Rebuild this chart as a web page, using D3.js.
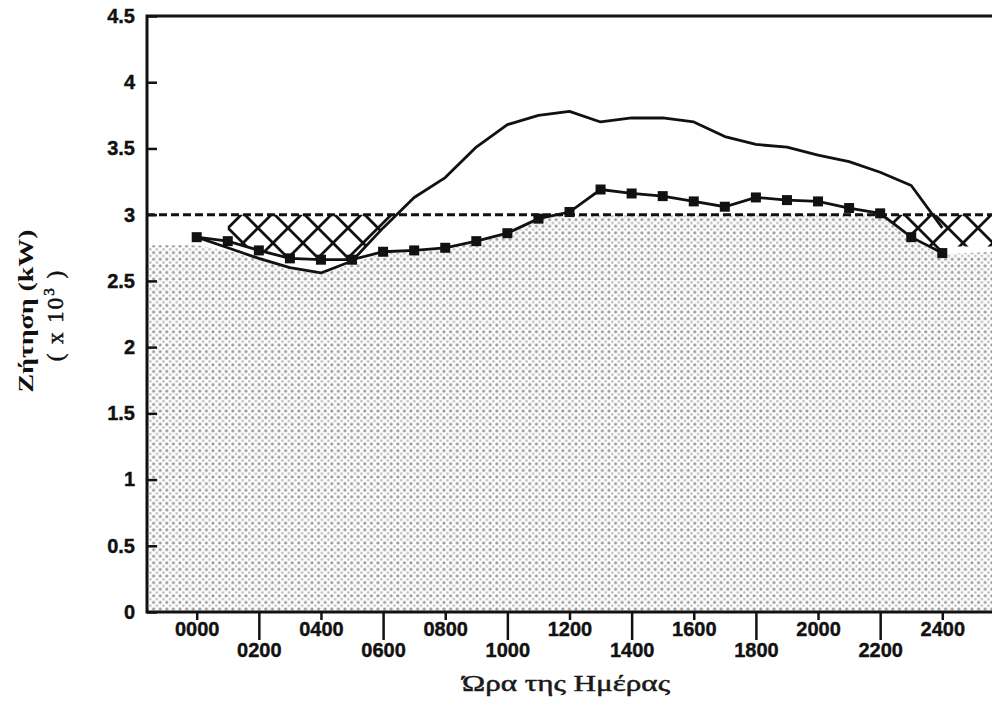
<!DOCTYPE html>
<html>
<head>
<meta charset="utf-8">
<script src="https://cdn.jsdelivr.net/npm/d3@7"></script>
<style>
  body { margin: 0; background: #fff; }
  svg { display: block; }
  .tick text { font-family: "Liberation Sans", Arial, sans-serif; font-weight: bold; font-size: 20px; fill: #111; stroke: #111; stroke-width: 0.4px; }
</style>
</head>
<body>
<span></span>
<script>
// hourly demand, kW x 10^3
var hours = d3.range(0, 25);
var storageLoad = [2.83, 2.80, 2.73, 2.67, 2.66, 2.66, 2.72, 2.73, 2.75, 2.80, 2.86, 2.97, 3.02,
                   3.19, 3.16, 3.14, 3.10, 3.06, 3.13, 3.11, 3.10, 3.05, 3.01, 2.83, 2.71];
var baseLoad = [2.83, 2.75, 2.67, 2.60, 2.56, 2.65, 2.90, 3.13, 3.28, 3.51, 3.68, 3.75, 3.78,
                3.70, 3.73, 3.73, 3.70, 3.59, 3.53, 3.51, 3.45, 3.40, 3.32, 3.22, 2.90];
var limit = 3.0;

// shaded (grid supply) area
var gridHours = [-1.6, 0, 1, 2, 3, 4, 5, 6, 7, 8, 9, 10, 11, 11.5, 22, 23, 24, 25.6];
var gridTop = [2.77, 2.77, 2.73, 2.66, 2.59, 2.55, 2.63, 2.71, 2.72, 2.74, 2.79, 2.85, 2.96, 3.0, 3.0, 2.81, 2.70, 2.72];

// cross-hatched (charging) areas
var hatchLeftHours = [1, 2, 3, 4, 5, 6, 7];
var hatchLeftBottom = [2.80, 2.73, 2.67, 2.66, 2.66, 2.72, 2.73];
var hatchRightHours = [22, 23, 24, 24.05, 25.6];
var hatchRightBottom = [3.01, 2.83, 2.71, 2.76, 2.76];

var yTicks = [0, 0.5, 1, 1.5, 2, 2.5, 3, 3.5, 4, 4.5];
var xTicks = d3.range(0, 25, 2);

var width = 992, height = 706;
var margin = {top: 16, right: 0, bottom: 94, left: 147};

var svg = d3.select("span").append("svg")
    .attr("width", width)
    .attr("height", height);

var x = d3.scaleLinear().domain([-1.6, 25.6]).range([margin.left, width - margin.right]);
var y = d3.scaleLinear().domain([0, 4.5]).range([height - margin.bottom, margin.top]);

var defs = svg.append("defs");

// stipple pattern
var dots = defs.append("pattern")
    .attr("id", "dots")
    .attr("patternUnits", "userSpaceOnUse")
    .attr("width", 6.6).attr("height", 6.6);
dots.append("circle").attr("cx", 1.8).attr("cy", 1.8).attr("r", 1.6).attr("fill", "#9a9a9a");
dots.append("circle").attr("cx", 5.1).attr("cy", 5.1).attr("r", 1.4).attr("fill", "#c2c2c2");

// cross hatch
var hatch = defs.append("pattern")
    .attr("id", "hatch")
    .attr("patternUnits", "userSpaceOnUse")
    .attr("patternTransform", "translate(3,3)")
    .attr("width", 30).attr("height", 30);
hatch.append("path")
    .attr("d", "M-3,-3L33,33M33,-3L-3,33")
    .attr("stroke", "#111").attr("stroke-width", 2.8).attr("fill", "none");

// clip: only above the base load line
defs.append("clipPath").attr("id", "aboveBase")
  .append("path")
    .attr("d", d3.area()
        .x(d => x(d))
        .y0(d => y(baseLoad[d]))
        .y1(y(4.5))(hours));

// grid supply area
var gridData = gridHours.map((h, i) => [h, gridTop[i]]);
svg.append("path")
    .datum(gridData)
    .attr("fill", "url(#dots)")
    .attr("d", d3.area()
        .x(d => x(d[0]))
        .y0(y(0))
        .y1(d => y(d[1])));

// hatched areas
svg.append("path")
    .datum(hatchLeftHours.map((h, i) => [h, hatchLeftBottom[i]]))
    .attr("fill", "url(#hatch)")
    .attr("clip-path", "url(#aboveBase)")
    .attr("d", d3.area()
        .x(d => x(d[0]))
        .y0(d => y(d[1]))
        .y1(y(limit)));

svg.append("path")
    .datum(hatchRightHours.map((h, i) => [h, hatchRightBottom[i]]))
    .attr("fill", "url(#hatch)")
    .attr("d", d3.area()
        .x(d => x(d[0]))
        .y0(d => y(d[1]))
        .y1(y(limit)));

// limit (dashed)
svg.append("line")
    .attr("x1", x(-1.6)).attr("x2", x(25.6))
    .attr("y1", y(limit)).attr("y2", y(limit))
    .attr("stroke", "#111").attr("stroke-width", 3)
    .attr("stroke-dasharray", "8,4");

var line = d3.line().x((d, i) => x(hours[i])).y(d => y(d));

// base load
svg.append("path")
    .datum(baseLoad)
    .attr("fill", "none").attr("stroke", "#111").attr("stroke-width", 2.8)
    .attr("stroke-linejoin", "round")
    .attr("d", line);

// load with storage
svg.append("path")
    .datum(storageLoad)
    .attr("fill", "none").attr("stroke", "#111").attr("stroke-width", 2.8)
    .attr("d", line);

svg.append("g")
    .selectAll("rect")
    .data(storageLoad)
    .join("rect")
    .attr("x", (d, i) => x(hours[i]) - 5)
    .attr("y", d => y(d) - 5)
    .attr("width", 10).attr("height", 10)
    .attr("fill", "#111");

// axes
function yAxis(g) {
    g.call(d3.axisLeft(y)
        .tickValues(yTicks)
        .tickFormat(d3.format("~g"))
        .tickSizeInner(-10)
        .tickSizeOuter(0)
        .tickPadding(12));
    g.select(".domain").remove();
    g.selectAll(".tick line").attr("stroke", "#111").attr("stroke-width", 2.5);
}

function xAxis(g) {
    g.call(d3.axisBottom(x)
        .tickValues(xTicks)
        .tickFormat(d => d3.format("04d")(d * 100))
        .tickSize(0));
    g.select(".domain").remove();
    g.selectAll(".tick line")
        .attr("stroke", "#111").attr("stroke-width", 2.5)
        .attr("y2", (d, i) => i % 2 ? 28 : 8);
    g.selectAll(".tick text")
        .attr("y", (d, i) => i % 2 ? 31 : 10);
}

svg.append("g")
    .attr("transform", `translate(${margin.left}, 0)`)
    .call(yAxis);

svg.append("g")
    .attr("transform", `translate(0, ${y(0)})`)
    .call(xAxis);

// frame
svg.append("path")
    .attr("d", `M${width},${y(4.5)}H${margin.left}V${y(0)}H${width}`)
    .attr("fill", "none").attr("stroke", "#111").attr("stroke-width", 3);

// titles
svg.append("text")
    .attr("x", 566).attr("y", 691)
    .attr("text-anchor", "middle")
    .attr("textLength", 208).attr("lengthAdjust", "spacingAndGlyphs")
    .style("font-family", "'Liberation Serif', 'DejaVu Serif', serif")
    .style("font-size", "24px")
    .style("fill", "#1a1a1a")
    .style("stroke", "#1a1a1a").style("stroke-width", "0.5px")
    .text("Ώρα της Ημέρας");

var yt = svg.append("g")
    .style("font-family", "'Liberation Serif', 'DejaVu Serif', serif")
    .style("font-weight", "bold")
    .style("fill", "#111");

yt.append("text")
    .attr("transform", "translate(33,311) rotate(-90)")
    .attr("text-anchor", "middle")
    .attr("textLength", 163).attr("lengthAdjust", "spacingAndGlyphs")
    .style("font-size", "22px")
    .text("Ζήτηση (kW)");

var t2 = yt.append("text")
    .attr("transform", "translate(63,315) rotate(-90)")
    .attr("text-anchor", "middle")
    .style("font-size", "23px")
    .style("letter-spacing", "2px")
    .style("font-weight", "normal")
    .style("stroke", "#111").style("stroke-width", "0.5px");
t2.append("tspan").text("( x 10");
t2.append("tspan").attr("dy", -9).style("font-size", "15px").text("3");
t2.append("tspan").attr("dy", 9).text(" )");
</script>
</body>
</html>
